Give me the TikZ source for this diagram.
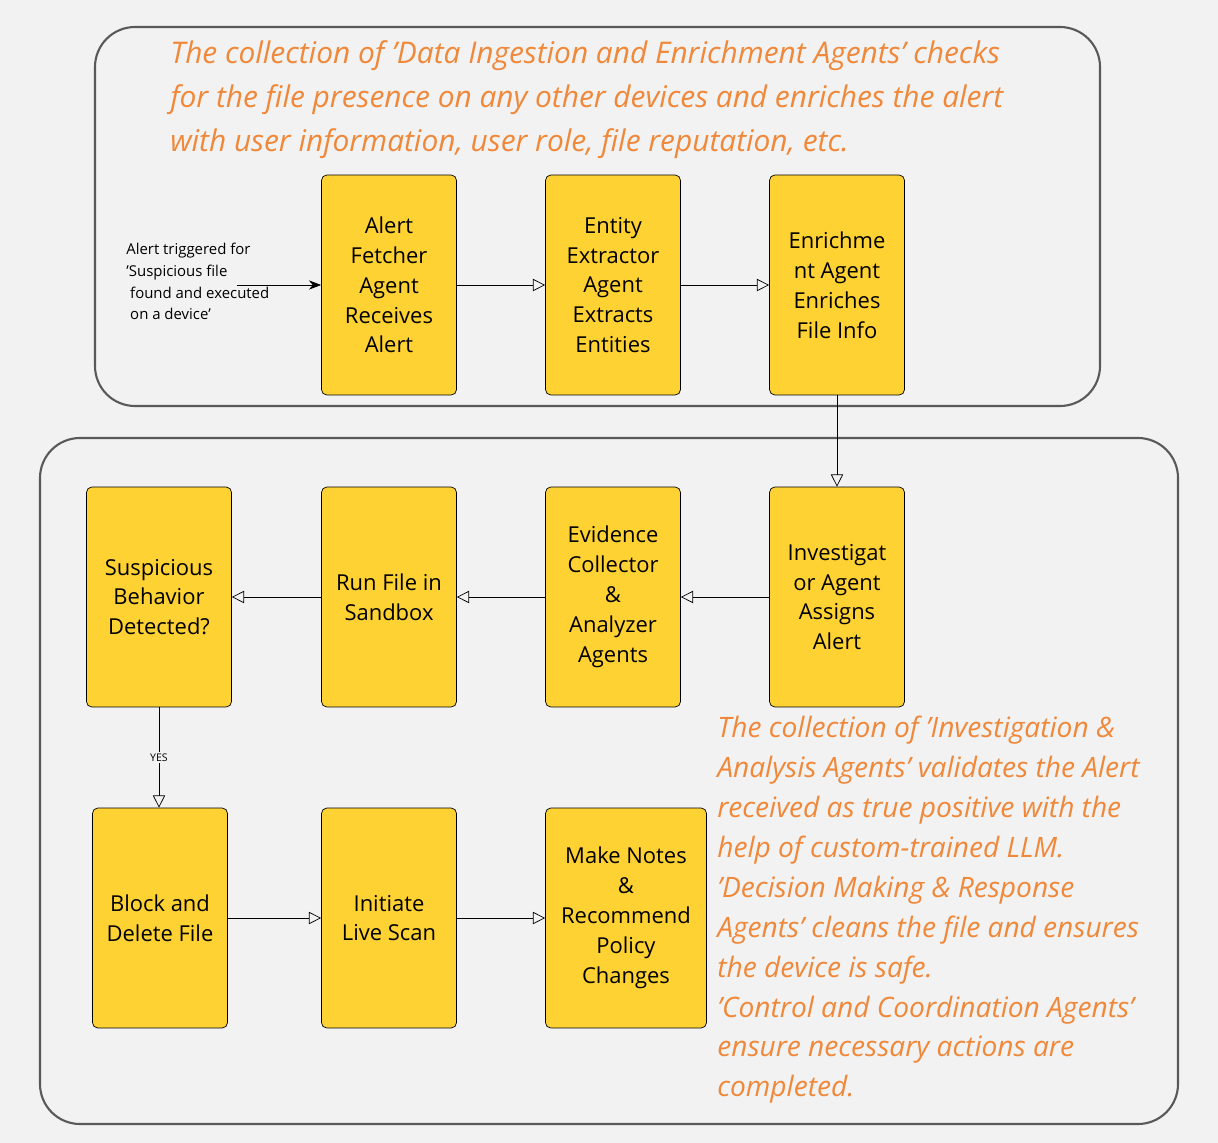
\documentclass[tikz,border=0pt]{standalone}
\usepackage{fontspec}
\setmainfont{Open Sans}
\usetikzlibrary{arrows.meta}
\definecolor{boxyellow}{HTML}{FFD233}
\definecolor{notes}{HTML}{F0883A}
\definecolor{bgray}{HTML}{F2F2F2}
\tikzset{
   agent/.style = {draw, fill=boxyellow, rounded corners=3pt, minimum width=2.7cm, minimum height=4.4cm, align=center, font=\fontsize{12.5}{17}\selectfont},
   flow/.style = {-{Triangle[open, length=7pt, width=7pt]}},
   group/.style = {draw=black!65, line width=1.2pt, rounded corners=0.8cm},
   note/.style = {text=notes, font=\fontsize{17}{25}\itshape\selectfont, align=left, anchor=north west, inner sep=0pt}
}
\begin{document}
\begin{tikzpicture}[x=0.02cm, y=-0.02cm]
		% Canvas
		\fill[bgray] (0,0) rectangle (1218,1143);
		\useasboundingbox (0,0) rectangle (1218,1143);
		
		% Groups
		\draw[group] (95,27) rectangle (1100,406);
		\draw[group] (40,438) rectangle (1178,1124);
		
		% Notes
		\node[note] (topnote) at (170,40) {The collection of 'Data Ingestion and Enrichment Agents' checks\\for the file presence on any other devices and enriches the alert\\with user information, user role, file reputation, etc.};
		\node[note, font=\fontsize{16}{22.7}\itshape\selectfont] (sidenote) at (717,716) {The collection of 'Investigation \&\\Analysis Agents' validates the Alert\\received as true positive with the\\help of custom-trained LLM.\\'Decision Making \& Response\\Agents' cleans the file and ensures\\the device is safe.\\'Control and Coordination Agents'\\ensure necessary actions are\\completed.};
		
		% Agents
		\node[agent] (fetcher) at (389,285) {Alert\\Fetcher\\Agent\\Receives\\Alert};
		\node[agent] (extractor) at (613,285) {Entity\\Extractor\\Agent\\Extracts\\Entities};
		\node[agent] (enrich) at (837,285) {Enrichme\\nt Agent\\Enriches\\File Info};
		\node[agent] (investig) at (837,597) {Investigat\\or Agent\\Assigns\\Alert};
		\node[agent] (evidence) at (613,597) {Evidence\\Collector\\\&\\Analyzer\\Agents};
		\node[agent] (sandbox) at (389,597) {Run File in\\Sandbox};
		\node[agent, minimum width=2.9cm] (suspicious) at (159,597) {Suspicious\\Behavior\\Detected?};
		\node[agent] (block) at (160,918) {Block and\\Delete File};
		\node[agent] (livescan) at (389,918) {Initiate\\Live Scan};
		\node[agent, minimum width=3.22cm] (notes) at (626,918) {Make Notes\\\&\\Recommend\\Policy\\Changes};
		
		% Trigger
		\node[align=left, anchor=north west, inner sep=0pt, font=\fontsize{8.5}{12.3}\selectfont] (trigger) at (126,243) {Alert triggered for\\'Suspicious file\\\ found and executed\\\ on a device'};
		\coordinate (tstart) at (237,285);
		\draw[-{Stealth[length=7pt]}] (tstart) -- (fetcher);
		
		% Flow
		\draw[flow] (fetcher) -- (extractor);
		\draw[flow] (extractor) -- (enrich);
		\draw[flow] (enrich) -- (investig);
		\draw[flow] (investig) -- (evidence);
		\draw[flow] (evidence) -- (sandbox);
		\draw[flow] (sandbox) -- (suspicious);
		\draw[flow] (suspicious.south) -- node[fill=bgray, inner sep=1pt, font=\fontsize{6}{7}\selectfont] {YES} (suspicious.south |- block.north);
		\draw[flow] (block) -- (livescan);
		\draw[flow] (livescan) -- (notes);
	\end{tikzpicture}
\end{document}
